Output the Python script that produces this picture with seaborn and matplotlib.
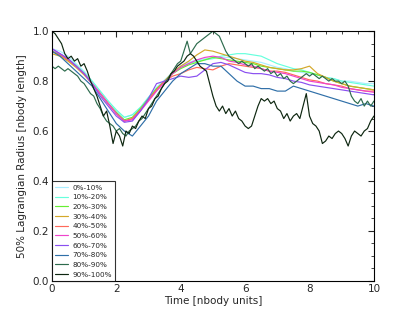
import numpy as np
import pandas as pd
import matplotlib
matplotlib.use("Agg")
import matplotlib.pyplot as plt
import seaborn as sns
from matplotlib.ticker import MultipleLocator

# ---- data ----
labels = ["0%-10%", "10%-20%", "20%-30%", "30%-40%", "40%-50%",
          "50%-60%", "60%-70%", "70%-80%", "80%-90%", "90%-100%"]
colors = ["#aaeeff", "#66ffdd", "#66ee33", "#d4a82a", "#ff6a5a",
          "#ee44cc", "#8a4ff0", "#2f6fa8", "#2d6b4d", "#0d2610"]

t_coarse = np.round(np.arange(0, 10.001, 0.25), 2)
t_fine = np.round(np.arange(0, 10.001, 0.1), 2)

r_00_10 = [0.93,0.92,0.90,0.87,0.84,0.80,0.76,0.72,0.68,0.655,0.665,0.695,0.735,0.775,0.805,0.835,0.86,0.875,0.885,0.89,0.895,0.895,0.895,0.89,0.885,0.88,0.875,0.865,0.855,0.85,0.84,0.835,0.83,0.825,0.815,0.81,0.80,0.80,0.795,0.79,0.79]
r_10_20 = [0.92,0.91,0.89,0.865,0.835,0.80,0.76,0.72,0.685,0.655,0.665,0.695,0.735,0.77,0.80,0.83,0.855,0.87,0.88,0.885,0.89,0.90,0.905,0.91,0.91,0.905,0.90,0.885,0.87,0.86,0.85,0.845,0.835,0.825,0.815,0.81,0.80,0.795,0.79,0.785,0.78]
r_20_30 = [0.92,0.905,0.885,0.86,0.83,0.79,0.75,0.71,0.675,0.645,0.655,0.69,0.73,0.77,0.80,0.83,0.85,0.865,0.875,0.885,0.895,0.89,0.885,0.88,0.875,0.87,0.86,0.855,0.85,0.845,0.84,0.84,0.835,0.825,0.815,0.80,0.79,0.78,0.775,0.77,0.765]
r_30_40 = [0.91,0.90,0.88,0.855,0.825,0.79,0.75,0.71,0.67,0.64,0.65,0.685,0.725,0.765,0.80,0.835,0.86,0.88,0.905,0.925,0.92,0.91,0.90,0.89,0.88,0.875,0.865,0.855,0.85,0.845,0.845,0.85,0.86,0.83,0.815,0.80,0.79,0.78,0.775,0.77,0.765]
r_40_50 = [0.92,0.905,0.885,0.86,0.83,0.79,0.75,0.71,0.67,0.64,0.65,0.685,0.725,0.765,0.80,0.82,0.83,0.845,0.855,0.85,0.845,0.86,0.87,0.865,0.86,0.855,0.85,0.84,0.84,0.835,0.825,0.815,0.805,0.80,0.79,0.785,0.78,0.77,0.765,0.76,0.76]
r_50_60 = [0.93,0.91,0.89,0.86,0.83,0.79,0.75,0.71,0.67,0.64,0.645,0.68,0.72,0.76,0.795,0.83,0.855,0.87,0.885,0.895,0.90,0.895,0.88,0.875,0.865,0.86,0.85,0.84,0.835,0.83,0.82,0.81,0.80,0.795,0.79,0.785,0.775,0.77,0.765,0.76,0.755]
r_60_70 = [0.93,0.91,0.89,0.86,0.83,0.79,0.74,0.70,0.66,0.635,0.64,0.68,0.73,0.79,0.80,0.81,0.82,0.815,0.82,0.845,0.87,0.875,0.865,0.85,0.835,0.83,0.83,0.825,0.815,0.81,0.80,0.795,0.785,0.78,0.775,0.77,0.765,0.76,0.755,0.75,0.745]
r_70_80 = [0.92,0.90,0.87,0.84,0.81,0.78,0.73,0.68,0.63,0.60,0.58,0.62,0.66,0.72,0.76,0.80,0.83,0.85,0.87,0.87,0.86,0.86,0.83,0.80,0.78,0.78,0.77,0.77,0.76,0.76,0.78,0.77,0.76,0.75,0.74,0.73,0.72,0.71,0.70,0.71,0.70]
r_80_90 = [0.86,0.85,0.86,0.85,0.84,0.85,0.84,0.83,0.82,0.80,
           0.79,0.77,0.75,0.74,0.71,0.69,0.66,0.64,0.63,0.62,
           0.60,0.61,0.59,0.58,0.60,0.61,0.62,0.64,0.65,0.67,
           0.69,0.71,0.73,0.75,0.77,0.79,0.81,0.83,0.85,0.87,
           0.88,0.92,0.96,0.91,0.93,0.95,0.96,0.97,0.98,0.99,
           1.00,0.99,0.98,0.95,0.92,0.90,0.89,0.88,0.87,0.88,
           0.87,0.86,0.87,0.85,0.86,0.85,0.84,0.85,0.83,0.84,
           0.82,0.83,0.81,0.82,0.80,0.79,0.80,0.81,0.82,0.83,
           0.82,0.83,0.82,0.81,0.82,0.81,0.80,0.81,0.80,0.80,
           0.79,0.80,0.78,0.74,0.72,0.71,0.73,0.70,0.72,0.70,
           0.72]
r_90_100 = [1.00,0.99,0.97,0.95,0.91,0.89,0.90,0.88,0.89,0.86,
            0.87,0.84,0.80,0.77,0.74,0.70,0.66,0.68,0.62,0.55,
            0.60,0.58,0.54,0.60,0.59,0.62,0.61,0.64,0.66,0.65,
            0.69,0.70,0.73,0.74,0.77,0.79,0.80,0.83,0.84,0.86,
            0.87,0.88,0.90,0.91,0.90,0.88,0.86,0.85,0.84,0.79,
            0.74,0.70,0.68,0.70,0.67,0.69,0.66,0.68,0.65,0.64,
            0.62,0.61,0.62,0.66,0.70,0.73,0.72,0.73,0.71,0.72,
            0.69,0.68,0.65,0.67,0.64,0.66,0.67,0.65,0.70,0.75,
            0.66,0.63,0.62,0.60,0.55,0.56,0.58,0.57,0.59,0.60,
            0.59,0.57,0.54,0.58,0.60,0.59,0.58,0.60,0.61,0.64,
            0.66]

series = [(r_00_10, t_coarse), (r_10_20, t_coarse), (r_20_30, t_coarse),
          (r_30_40, t_coarse), (r_40_50, t_coarse), (r_50_60, t_coarse),
          (r_60_70, t_coarse), (r_70_80, t_coarse), (r_80_90, t_fine),
          (r_90_100, t_fine)]

frames = []
for lab, (vals, tt) in zip(labels, series):
    frames.append(pd.DataFrame({"t": tt, "r": vals, "bin": lab}))
df = pd.concat(frames, ignore_index=True)

# ---- plot ----
sns.set_style("white")
plt.rcParams.update({
    "font.family": ["DejaVu Sans"],
    "xtick.direction": "in", "ytick.direction": "in",
    "xtick.top": True, "ytick.right": True,
    "xtick.major.size": 4, "ytick.major.size": 4,
    "xtick.minor.size": 2, "ytick.minor.size": 2,
    "xtick.labelsize": 7.5, "ytick.labelsize": 7.5,
    "axes.labelsize": 7.5,
    "axes.edgecolor": "black", "axes.linewidth": 0.8,
})

fig = plt.figure(figsize=(4.15, 3.12), dpi=100)
ax = fig.add_axes([0.125, 0.1, 0.776, 0.8])
sns.lineplot(data=df, x="t", y="r", hue="bin", palette=dict(zip(labels, colors)),
             hue_order=labels, estimator=None, sort=True, linewidth=0.85, ax=ax)

ax.set_xlim(0, 10)
ax.set_ylim(0, 1.0)
ax.xaxis.set_major_locator(MultipleLocator(2))
ax.xaxis.set_minor_locator(MultipleLocator(0.5))
ax.yaxis.set_major_locator(MultipleLocator(0.2))
ax.yaxis.set_minor_locator(MultipleLocator(0.05))
ax.tick_params(which="both", direction="in", top=True, right=True, pad=2)
ax.set_xlabel("Time [nbody units]", labelpad=2)
ax.set_ylabel("50% Lagrangian Radius [nbody length]", labelpad=4)

handles, _ = ax.get_legend_handles_labels()
leg = ax.legend(handles, labels, loc="lower left", fontsize=5.2, frameon=True,
                fancybox=False, edgecolor="black", handlelength=1.8,
                labelspacing=0.5, borderpad=0.45, handletextpad=0.6,
                borderaxespad=0.0)
leg.get_frame().set_linewidth(0.8)

fig.savefig("out.png", dpi=100)
